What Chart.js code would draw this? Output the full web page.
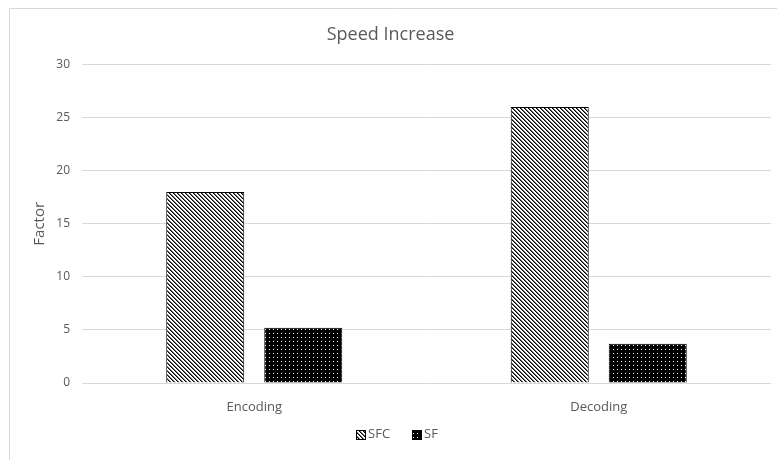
<!DOCTYPE html>
<html>
<head>
<meta charset="utf-8">
<script src="https://cdn.jsdelivr.net/npm/chart.js@4.4.0/dist/chart.umd.min.js"></script>
<style>
  html, body { margin: 0; padding: 0; background: #ffffff; }
  #wrap { position: relative; width: 777px; height: 460px; }
</style>
</head>
<body>
<div id="wrap"><canvas id="chart" width="777" height="460"></canvas></div>
<script>
// Chart data
const categories = ['Encoding', 'Decoding'];
const seriesNames = ['SFC', 'SF'];
const sfcValues = [18, 26];
const sfValues = [5.2, 3.7];
const yTicks = [0, 5, 10, 15, 20, 25, 30];

const textGray = '#595959';
const gridGray = '#d9d9d9';
const fontFamily = '"Open Sans", "Noto Sans", sans-serif';

// Wide downward-diagonal hatch: black stripes on white
function hatchPattern() {
  const c = document.createElement('canvas');
  c.width = 8; c.height = 8;
  const g = c.getContext('2d');
  const img = g.createImageData(8, 8);
  for (let y = 0; y < 8; y++) {
    for (let x = 0; x < 8; x++) {
      const m = ((x - y) % 4 + 4) % 4;
      let v = 255;
      if (m === 0) v = 0;
      else if (m === 1) v = 110;
      const i = (y * 8 + x) * 4;
      img.data[i] = img.data[i + 1] = img.data[i + 2] = v;
      img.data[i + 3] = 255;
    }
  }
  g.putImageData(img, 0, 0);
  return g.createPattern(c, 'repeat');
}

// Black fill with a regular grid of small white dots
function dotPattern() {
  const c = document.createElement('canvas');
  c.width = 4; c.height = 4;
  const g = c.getContext('2d');
  g.fillStyle = '#000000';
  g.fillRect(0, 0, 4, 4);
  g.fillStyle = '#ffffff';
  g.fillRect(1, 1, 1, 1);
  return g.createPattern(c, 'repeat');
}

// Light frame along the left and top edges of the chart
const framePlugin = {
  id: 'frame',
  beforeDraw(chart) {
    const ctx = chart.ctx;
    ctx.save();
    ctx.strokeStyle = gridGray;
    ctx.lineWidth = 1;
    ctx.beginPath();
    ctx.moveTo(9.5, chart.height);
    ctx.lineTo(9.5, 8.5);
    ctx.lineTo(chart.width, 8.5);
    ctx.stroke();
    ctx.restore();
  }
};

// Compact bottom legend: swatch, short gap, series name
const swatchLegend = {
  id: 'swatchLegend',
  afterDraw(chart) {
    const ctx = chart.ctx;
    const box = 9, gap = 3, itemGap = 22, cy = 434, cx = 397;
    ctx.save();
    ctx.font = '13px ' + fontFamily;
    ctx.textBaseline = 'middle';
    ctx.textAlign = 'left';
    const items = chart.data.datasets.map(ds => ({
      ds, w: ctx.measureText(ds.label).width
    }));
    const total = items.reduce((s, it) => s + box + gap + it.w, 0) + itemGap * (items.length - 1);
    let x = cx - total / 2;
    items.forEach(it => {
      const bx = Math.round(x) + 0.5, by = Math.round(cy - box / 2) + 0.5;
      ctx.fillStyle = it.ds.backgroundColor;
      ctx.fillRect(bx, by, box, box);
      ctx.strokeStyle = '#000000';
      ctx.lineWidth = 1;
      ctx.strokeRect(bx, by, box, box);
      ctx.fillStyle = textGray;
      ctx.fillText(it.ds.label, x + box + gap, cy);
      x += box + gap + it.w + itemGap;
    });
    ctx.restore();
  }
};

new Chart(document.getElementById('chart'), {
  type: 'bar',
  data: {
    labels: categories,
    datasets: [
      {
        label: seriesNames[0],
        data: sfcValues,
        backgroundColor: hatchPattern(),
        borderColor: '#000000',
        borderWidth: 1
      },
      {
        label: seriesNames[1],
        data: sfValues,
        backgroundColor: dotPattern(),
        borderColor: '#000000',
        borderWidth: 1
      }
    ]
  },
  options: {
    responsive: false,
    animation: false,
    devicePixelRatio: 1,
    categoryPercentage: 0.569,
    barPercentage: 0.796,
    layout: { padding: { top: 14, left: 10, right: 6, bottom: 33 } },
    plugins: {
      title: {
        display: true,
        text: 'Speed Increase',
        color: textGray,
        font: { family: fontFamily, size: 18, weight: 'normal' },
        padding: { top: 10, bottom: 19 }
      },
      legend: { display: false },
      tooltip: { enabled: false }
    },
    scales: {
      x: {
        grid: { display: false },
        border: { display: false },
        ticks: { color: textGray, font: { family: fontFamily, size: 13 }, padding: 8 },
        afterFit(s) { s.height = 44; }
      },
      y: {
        min: 0,
        max: 30,
        afterBuildTicks(s) { s.ticks = yTicks.map(v => ({ value: v })); },
        grid: { color: gridGray, drawTicks: false },
        border: { display: false },
        ticks: { color: textGray, font: { family: fontFamily, size: 12 }, padding: 12 },
        title: {
          display: true,
          text: 'Factor',
          color: textGray,
          font: { family: fontFamily, size: 15 },
          padding: { top: 21, bottom: 0 }
        },
        afterFit(s) { s.width = 72; }
      }
    }
  },
  plugins: [framePlugin, swatchLegend]
});
</script>
</body>
</html>
